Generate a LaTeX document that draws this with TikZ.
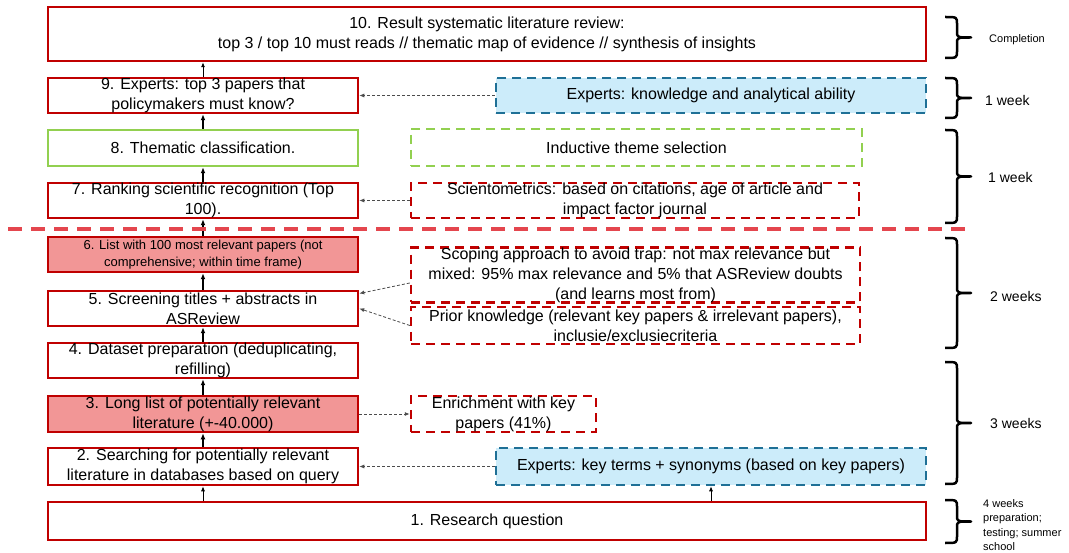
\documentclass[tikz,border=0pt]{standalone}
\usepackage{fontspec}
\setmainfont{Liberation Sans}
\usetikzlibrary{arrows.meta}
\definecolor{boxred}{RGB}{192,0,0}
\definecolor{boxpink}{RGB}{242,150,150}
\definecolor{boxgreen}{RGB}{146,208,80}
\definecolor{expblue}{RGB}{31,112,150}
\definecolor{expfill}{RGB}{204,236,250}
\definecolor{cutred}{RGB}{228,70,78}
% right-hand brace: x, top, bottom
\newcommand{\timebrace}[3]{%
  \pgfmathsetmacro{\bmid}{(#2+#3)/2}%
  \draw[period] (#1,#2) .. controls (#1+12,#2) .. (#1+12,#2+7) -- (#1+12,\bmid-6)
    .. controls (#1+12,\bmid) .. (#1+26,\bmid) .. controls (#1+12,\bmid) .. (#1+12,\bmid+6)
    -- (#1+12,#3-7) .. controls (#1+12,#3) .. (#1,#3);}

\begin{document}
\begin{tikzpicture}[x=1pt,y=-1pt,
  every node/.style={inner sep=0pt, align=center, font=\fontsize{16}{20}\selectfont},
  stepbox/.style={draw=boxred, line width=2.5pt, minimum width=310pt, minimum height=35pt},
  pinkbox/.style={stepbox, fill=boxpink},
  themebox/.style={stepbox, draw=boxgreen},
  inputbox/.style={draw=boxred, line width=2.5pt, dash pattern=on 9pt off 6pt},
  expertbox/.style={inputbox, draw=expblue, fill=expfill},
  flow/.style={-{Latex[length=6pt,width=5pt]}, line width=2pt},
  thinflow/.style={-{Latex[length=5pt,width=4pt]}, line width=0.8pt},
  hint/.style={-{Latex[length=5pt,width=4pt]}, gray!60!black, line width=0.8pt, dash pattern=on 3pt off 2pt},
  period/.style={line width=2.5pt, line join=round},
  weeks/.style={anchor=west, font=\fontsize{14}{17}\selectfont},
  small/.style={anchor=west, align=left, font=\fontsize{11}{14.5}\selectfont}]
\useasboundingbox (0,0) rectangle (1069,553);

% steps
\node[stepbox, minimum width=878pt, minimum height=54pt] (s10) at (487,34)
  {10. Result systematic literature review:\\top 3 / top 10 must reads // thematic map of evidence // synthesis of insights};
\node[stepbox] (s9) at (203,95.5) {9. Experts: top 3 papers that\\policymakers must know?};
\node[themebox, minimum height=36pt] (s8) at (203,148) {8. Thematic classification.};
\node[stepbox] (s7) at (203,200.5) {7. Ranking scientific recognition (Top\\100).};
\node[pinkbox, font=\fontsize{13}{17}\selectfont] (s6) at (203,254.5)
  {6. List with 100 most relevant papers (not\\comprehensive; within time frame)};
\node[stepbox] (s5) at (203,308.5) {5. Screening titles + abstracts in\\ASReview};
\node[stepbox] (s4) at (203,360.5) {4. Dataset preparation (deduplicating,\\refilling)};
\node[pinkbox, minimum height=36pt] (s3) at (203,414) {3. Long list of potentially relevant\\literature (+-40.000)};
\node[stepbox, minimum height=37pt] (s2) at (203,466.5) {2. Searching for potentially relevant\\literature in databases based on query};
\node[stepbox, minimum width=878pt, minimum height=38pt] (s1) at (487,521) {1. Research question};

% inputs
\node[expertbox, minimum width=430pt, minimum height=35pt] (ex9) at (711,95.5) {Experts: knowledge and analytical ability};
\node[inputbox, draw=boxgreen, minimum width=451pt, minimum height=37pt] (thm) at (636.5,147.5) {Inductive theme selection};
\node[inputbox, minimum width=448pt, minimum height=35pt] (sci) at (635,200.5)
  {Scientometrics: based on citations, age of article and\\impact factor journal};
\node[inputbox, minimum width=449pt, minimum height=54pt] (scp) at (635.5,275)
  {Scoping approach to avoid trap: not max relevance but\\mixed: 95\% max relevance and 5\% that ASReview doubts\\(and learns most from)};
\node[inputbox, minimum width=449pt, minimum height=37pt] (pri) at (635.5,325.5)
  {Prior knowledge (relevant key papers \& irrelevant papers),\\inclusie/exclusiecriteria};
\node[inputbox, minimum width=185pt, minimum height=36pt] (enr) at (503.5,414) {Enrichment with key\\papers (41\%)};
\node[expertbox, minimum width=430pt, minimum height=37pt] (ex2) at (711,466.5)
  {Experts: key terms + synonyms (based on key papers)};

% flow
\draw[thinflow] (s9) -- (s9 |- s10.south);
\draw[flow] (s8) -- (s9);
\draw[flow] (s7) -- (s8);
\draw[flow] (s6) -- (s7);
\draw[flow] (s5) -- (s6);
\draw[flow] (s4) -- (s5);
\draw[flow] (s3) -- (s4);
\draw[flow] (s2) -- (s3);
\draw[thinflow] (s2 |- s1.north) -- (s2);
\draw[thinflow] (ex2.south |- s1.north) -- (ex2.south);
\draw[hint] (ex9) -- (s9);
\draw[hint] (sci) -- (s7);
\draw[hint] ([yshift=-8pt]scp.west) -- ([yshift=15pt]s5.east);
\draw[hint] (pri.west) -- (s5.east);
\draw[hint] (s3) -- (enr);
\draw[hint] (ex2) -- (s2);

\draw[cutred, line width=3.5pt, dash pattern=on 14pt off 9pt] (8,229) -- (972,229);

% periods
\timebrace{945}{17}{58}
\node[small] (p10) at (989,40) {Completion};
\timebrace{945}{78}{118}
\node[weeks] (p9) at (985,100) {1 week};
\timebrace{945}{130}{223}
\node[weeks] (p7) at (988,177) {1 week};
\timebrace{945}{238}{348}
\node[weeks] (p5) at (990,296) {2 weeks};
\timebrace{945}{362}{484}
\node[weeks] (p3) at (990,423) {3 weeks};
\timebrace{945}{500}{543}
\node[small] (p1) at (983,525) {4 weeks\\preparation;\\testing; summer\\school};
\end{tikzpicture}
\end{document}
